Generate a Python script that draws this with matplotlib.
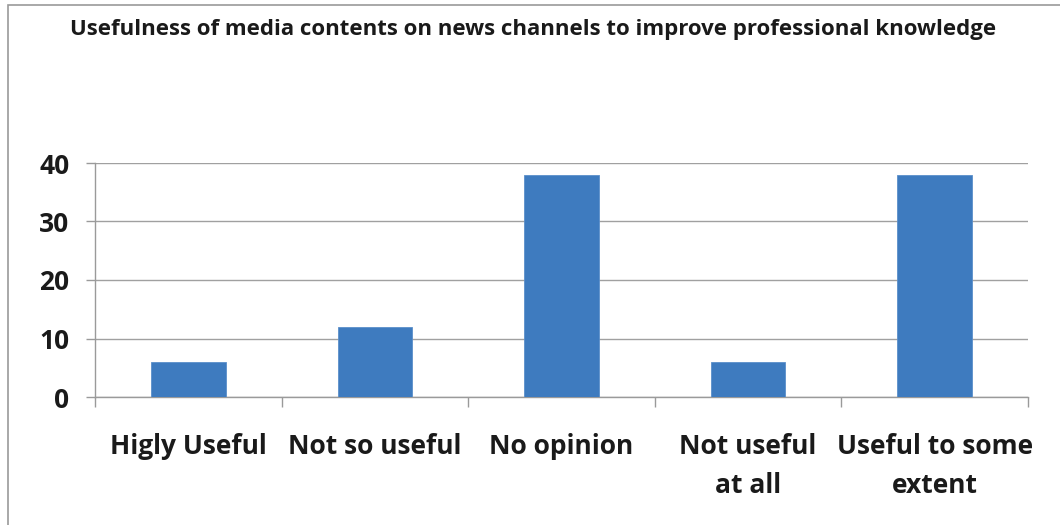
import matplotlib
matplotlib.use("Agg")
import matplotlib.pyplot as plt
from matplotlib.patches import Rectangle

title = "Usefulness of media contents on news channels to improve professional knowledge"
categories = ["Higly Useful", "Not so useful", "No opinion", "Not useful\nat all", "Useful to some\nextent"]
values = [6, 12, 38, 6, 38]
yticks = [0, 10, 20, 30, 40]

plt.rcParams['font.family'] = ['Open Sans', 'DejaVu Sans']
plt.rcParams['font.weight'] = 'bold'

fig = plt.figure(figsize=(10.6, 5.25), dpi=100)
fig.patch.set_facecolor('white')

# outer chart border
fig.patches.append(Rectangle((8/1060, -0.1), 1.2, 1 - 5/525 + 0.1, transform=fig.transFigure,
                             fill=False, edgecolor='#9a9a9a', linewidth=1.2))

ax = fig.add_axes([95/1060, 1 - 397/525, (1028-95)/1060, (397-163)/525])
x = list(range(len(categories)))
ax.bar(x, values, width=0.4, color='#3e7bbf', edgecolor='#5b8fca', linewidth=0.6, zorder=3)

ax.set_xlim(-0.5, len(categories) - 0.5)
ax.set_ylim(0, 40)
ax.set_yticks(yticks)
ax.set_yticklabels([str(v) for v in yticks], fontsize=19, fontweight='bold', color='#1a1a1a')
ax.set_xticks(x)
ax.set_xticklabels(categories, fontsize=19, fontweight='bold', color='#1a1a1a', linespacing=1.58)
ax.set_xticks([i - 0.5 for i in range(len(categories) + 1)], minor=True)
ax.tick_params(axis='x', which='major', length=0, pad=26)
ax.tick_params(axis='x', which='minor', length=7, color='#9a9a9a', width=1.0, direction='out')
ax.tick_params(axis='y', which='major', length=6.5, color='#9a9a9a', width=1.0, pad=12)

ax.grid(axis='y', color='#a0a0a0', linewidth=1.0, zorder=0)
ax.set_axisbelow(True)
for s in ['top', 'right']:
    ax.spines[s].set_visible(False)
for s in ['left', 'bottom']:
    ax.spines[s].set_color('#9a9a9a')
    ax.spines[s].set_linewidth(1.0)

fig.text(533/1060, 1 - 29/525, title, ha='center', va='center', fontsize=16,
         fontweight='bold', color='#1a1a1a')

fig.savefig('out.png', dpi=100)
